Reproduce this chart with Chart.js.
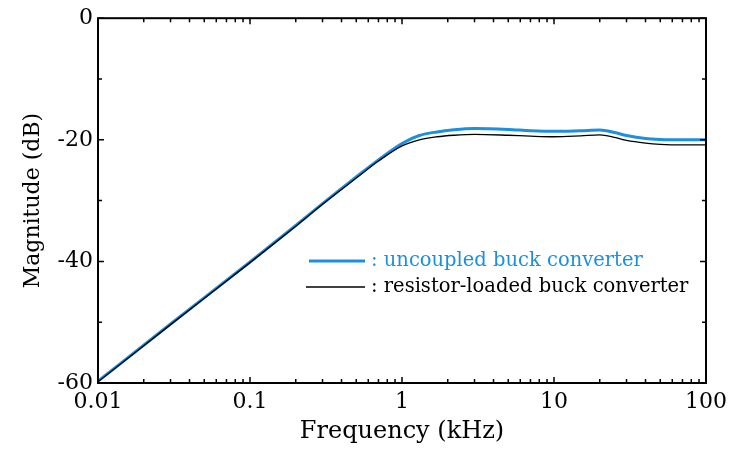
<!DOCTYPE html>
<html><head><meta charset="utf-8">
<script src="https://cdn.jsdelivr.net/npm/chart.js@4/dist/chart.umd.min.js"></script>
<style>html,body{margin:0;padding:0;background:#fff}#wrap{width:741px;height:451px}</style>
</head><body><div id="wrap"><canvas id="c" width="741" height="451"></canvas></div>
<script>
const freqKHz = [0.01, 0.03, 0.1, 0.2, 0.3, 0.5, 0.7, 1, 1.3, 1.7, 2.2, 3, 5, 7, 10, 15, 20, 25, 30, 40, 50, 70, 100];
const uncoupledDb = [-59.7, -50.3, -40.1, -34.1, -30.5, -26.1, -23.3, -20.6, -19.3, -18.7, -18.35, -18.15, -18.3, -18.5, -18.6, -18.5, -18.4, -18.8, -19.3, -19.8, -19.95, -20.0, -20.0];
const resistorDb = [-59.8, -50.4, -40.2, -34.2, -30.6, -26.3, -23.5, -21.0, -20.0, -19.5, -19.25, -19.1, -19.25, -19.4, -19.5, -19.35, -19.2, -19.6, -20.1, -20.55, -20.75, -20.85, -20.85];
const xTickLabels = [0.01, 0.1, 1, 10, 100];
const yTickLabels = [-60, -40, -20, 0];
const seriesLabels = [': uncoupled buck converter', ': resistor-loaded buck converter'];

const FONT = 'DejaVu Serif';
const BLUE = '#1b8fe0';

const toPts = (ys) => freqKHz.map((f, i) => ({x: f, y: ys[i]}));

const frame = {
  id: 'frame',
  afterDraw(chart) {
    const {ctx, chartArea: a, scales: {x, y}} = chart;
    ctx.save();
    ctx.strokeStyle = '#000';
    ctx.lineWidth = 1.5;
    const xs = [];
    for (let d = 0.01; d < 100; d *= 10) for (let k = 1; k < 10; k++) xs.push({v: d * k, major: k === 1});
    xs.push({v: 100, major: true});
    xs.forEach(t => {
      const px = x.getPixelForValue(t.v);
      const L = t.major ? 6 : 4;
      ctx.beginPath();
      ctx.moveTo(px, a.bottom); ctx.lineTo(px, a.bottom - L);
      ctx.moveTo(px, a.top); ctx.lineTo(px, a.top + L);
      ctx.stroke();
    });
    for (let v = -60; v <= 0; v += 10) {
      const py = y.getPixelForValue(v);
      const L = (v % 20 === 0) ? 6 : 4;
      ctx.beginPath();
      ctx.moveTo(a.left, py); ctx.lineTo(a.left + L, py);
      ctx.moveTo(a.right, py); ctx.lineTo(a.right - L, py);
      ctx.stroke();
    }
    ctx.lineWidth = 2;
    ctx.strokeRect(a.left, a.top, a.right - a.left, a.bottom - a.top);
    const ds = chart.data.datasets;
    const rows = [{y: 261, x0: 309}, {y: 287, x0: 306}];
    ctx.font = '19.5px "' + FONT + '"';
    ctx.textBaseline = 'middle';
    ds.forEach((d, i) => {
      ctx.strokeStyle = d.borderColor;
      ctx.lineWidth = d.borderWidth;
      ctx.beginPath(); ctx.moveTo(rows[i].x0, rows[i].y); ctx.lineTo(365, rows[i].y); ctx.stroke();
      ctx.fillStyle = d.borderColor;
      ctx.fillText(d.label, 371, rows[i].y);
    });
    ctx.restore();
  }
};

new Chart(document.getElementById('c'), {
  type: 'line',
  data: {
    datasets: [
      {label: seriesLabels[0], data: toPts(uncoupledDb), borderColor: BLUE, borderWidth: 3, pointRadius: 0, cubicInterpolationMode: 'monotone', order: 1},
      {label: seriesLabels[1], data: toPts(resistorDb), borderColor: '#000', borderWidth: 1.3, pointRadius: 0, cubicInterpolationMode: 'monotone', order: 0}
    ]
  },
  options: {
    responsive: false, animation: false,
    layout: {padding: {top: 18, right: 35, left: 0, bottom: 0}},
    plugins: {legend: {display: false}, tooltip: {enabled: false}},
    scales: {
      x: {
        type: 'logarithmic', min: 0.01, max: 100,
        afterFit: s => { s.height = 68; },
        afterBuildTicks: s => { s.ticks = xTickLabels.map(v => ({value: v})); },
        grid: {display: false, drawTicks: false},
        border: {display: false},
        ticks: {color: '#000', font: {family: FONT, size: 22}, padding: 6, maxRotation: 0, autoSkip: false,
          callback: v => String(v)},
        title: {display: true, text: 'Frequency (kHz)', color: '#000', font: {family: FONT, size: 24}, padding: {bottom: 5}}
      },
      y: {
        min: -60, max: 0,
        afterFit: s => { s.width = 98; },
        afterBuildTicks: s => { s.ticks = yTickLabels.map(v => ({value: v})); },
        grid: {display: false, drawTicks: false},
        border: {display: false},
        ticks: {color: '#000', font: {family: FONT, size: 22}, padding: 5},
        title: {display: true, text: 'Magnitude (dB)', color: '#000', font: {family: FONT, size: 22}, padding: {top: 20}}
      }
    }
  },
  plugins: [frame]
});
</script></body></html>
